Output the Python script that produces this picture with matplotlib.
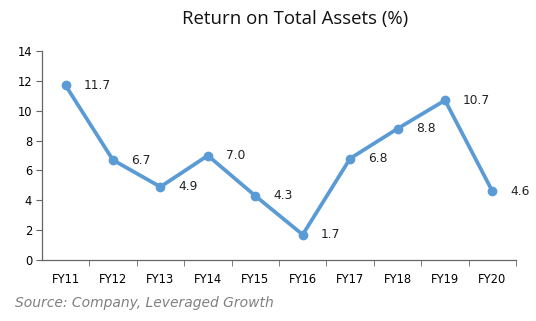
import matplotlib
matplotlib.use("Agg")
import matplotlib.pyplot as plt

# Return on total assets by fiscal year
years = ["FY11", "FY12", "FY13", "FY14", "FY15", "FY16", "FY17", "FY18", "FY19", "FY20"]
roa = [11.7, 6.7, 4.9, 7.0, 4.3, 1.7, 6.8, 8.8, 10.7, 4.6]

LINE_COLOR = "#5B9BD5"

fig = plt.figure(figsize=(5.36, 3.21), dpi=100)
ax = fig.add_axes([0.078, 0.19, 0.885, 0.651])

x = list(range(len(years)))
ax.plot(x, roa, color=LINE_COLOR, linewidth=2.7, marker="o", markersize=6,
        solid_joinstyle="round")

for xi, v in zip(x, roa):
    ax.annotate(f"{v:.1f}", (xi, v), xytext=(13, 0), textcoords="offset points",
                va="center", ha="left", fontsize=8.8, color="#222222")

ax.set_xlim(-0.5, len(years) - 0.5)
ax.set_ylim(0, 14)
ax.set_yticks(range(0, 15, 2))
ax.set_xticks(x)
ax.set_xticklabels(years)
ax.set_xticks([i + 0.5 for i in range(len(years))], minor=True)
ax.tick_params(axis="x", which="major", length=0, pad=9, labelsize=8.3)
ax.tick_params(axis="x", which="minor", length=4, color="#666666")
ax.tick_params(axis="y", length=4, color="#666666", labelsize=8.3, pad=3)

for side in ("top", "right"):
    ax.spines[side].set_visible(False)
for side in ("left", "bottom"):
    ax.spines[side].set_color("#666666")
    ax.spines[side].set_linewidth(0.9)

fig.text(0.55, 0.94, "Return on Total Assets (%)", ha="center", va="center",
         fontsize=13.4, family="Open Sans", color="#111111")
fig.text(0.028, 0.055, "Source: Company, Leveraged Growth", ha="left", va="center",
         fontsize=10, style="italic", color="#808080", family="DejaVu Sans")

fig.savefig("out.png", dpi=100)
